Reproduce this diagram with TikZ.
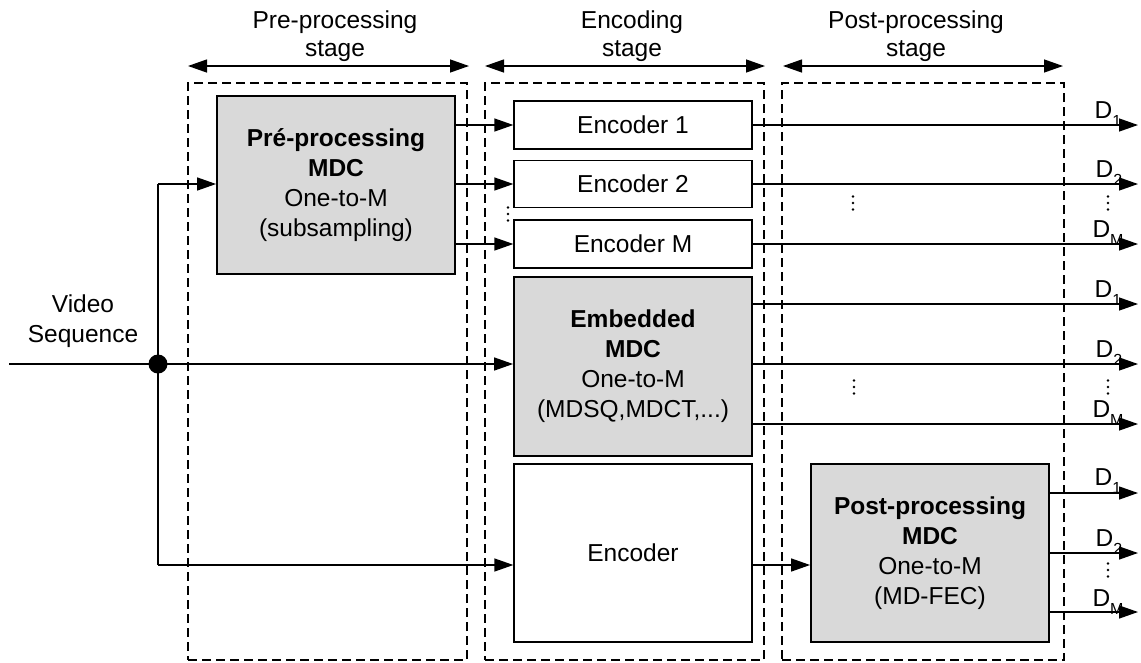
\documentclass[tikz,border=0pt]{standalone}
\usepackage{fontspec}
\setmainfont{Liberation Sans}
\usetikzlibrary{arrows.meta}
\definecolor{boxgray}{RGB}{217,217,217}
\newcommand\dsub[1]{\raisebox{-8pt}{\fontsize{16}{16}\selectfont #1}}
\begin{document}
\begin{tikzpicture}[x=1pt,y=-1pt,
  every node/.style={font=\fontsize{24.5}{30}\selectfont},
  conn/.style={line width=1.3pt},
  arr/.style={line width=1.3pt,-{Triangle[length=19pt,width=13pt]}},
  dbl/.style={line width=1.3pt,{Triangle[length=19pt,width=13pt]}-{Triangle[length=19pt,width=13pt]}},
  stagebox/.style={draw,line width=1.2pt,dash pattern=on 9pt off 5pt,inner sep=0pt,minimum height=577pt},
  whitebox/.style={draw,fill=white,line width=1.3pt,inner sep=0pt,minimum width=238pt,align=center},
  graybox/.style={draw,fill=boxgray,line width=1.8pt,inner sep=0pt,minimum width=238pt,align=center},
  stagelab/.style={align=center,font=\fontsize{24.5}{28}\selectfont},
  dlab/.style={anchor=base,inner sep=0pt},
  vd/.pic={\fill (0,-6.5) circle (1.4pt) (0,0) circle (1.4pt) (0,6.5) circle (1.4pt);}
]
\useasboundingbox (0,0) rectangle (1141,662);

% stage frames
\node[stagebox,minimum width=279pt] (s1) at (327.5,371.5) {};
\node[stagebox,minimum width=279pt] (s2) at (624.5,371.5) {};
\node[stagebox,minimum width=282pt] (s3) at (923,371.5) {};

% stage labels and arrows
\node[stagelab] (l1) at (335,36.5) {Pre-processing\\stage};
\node[stagelab] (l2) at (632,36.5) {Encoding\\stage};
\node[stagelab] (l3) at (916,36.5) {Post-processing\\stage};
\coordinate (a1l) at (188,66); \coordinate (a1r) at (469,66);
\coordinate (a2l) at (485,66); \coordinate (a2r) at (765,66);
\coordinate (a3l) at (783,66); \coordinate (a3r) at (1063,66);
\draw[dbl] (a1l) -- (a1r);
\draw[dbl] (a2l) -- (a2r);
\draw[dbl] (a3l) -- (a3r);

% blocks
\node[graybox,minimum height=178pt] (pre) at (336,185) {\textbf{Pré-processing}\\\textbf{MDC}\\One-to-M\\(subsampling)};
\node[whitebox,minimum height=48pt] (enc1) at (633,125) {Encoder 1};
\node[whitebox,minimum height=47pt] (enc2) at (633,184) {Encoder 2};
\node[whitebox,minimum height=48pt] (encM) at (633,244) {Encoder M};
\node[graybox,minimum height=179pt] (emb) at (633,366.5) {\textbf{Embedded}\\\textbf{MDC}\\One-to-M\\(MDSQ,MDCT,...)};
\node[whitebox,minimum height=178pt] (enc) at (633,553) {Encoder};
\node[graybox,minimum height=178pt] (post) at (930,553) {\textbf{Post-processing}\\\textbf{MDC}\\One-to-M\\(MD-FEC)};

\node[align=center] (video) at (83,321.5) {Video\\Sequence};

% input network
\coordinate (vin) at (9,364);
\coordinate (jc) at (158,364);
\coordinate (tap) at (158,184);
\coordinate (bot) at (158,565);
\draw[conn] (vin) -- (jc);
\draw[arr] (jc) -- (jc -| emb.west);
\draw[conn] (tap) -- (bot);
\draw[arr] (tap) -- (tap -| pre.west);
\draw[arr] (bot) -- (bot -| enc.west);
\node[circle,fill=black,inner sep=0pt,minimum size=19pt] (j) at (jc) {};

% pre-processing to encoders
\draw[arr] (pre.east |- enc1.west) -- (enc1.west);
\draw[arr] (pre.east |- enc2.west) -- (enc2.west);
\draw[arr] (pre.east |- encM.west) -- (encM.west);

% encoder to post-processing
\draw[arr] (enc.east |- bot) -- (post.west |- bot);

% outputs
\coordinate (o1) at (1138,125);
\coordinate (o2) at (1138,184);
\coordinate (o3) at (1138,244);
\coordinate (o4) at (1138,304);
\coordinate (o5) at (1138,364);
\coordinate (o6) at (1138,424);
\coordinate (o7) at (1138,493);
\coordinate (o8) at (1138,553);
\coordinate (o9) at (1138,612);
\draw[arr] (enc1.east) -- (o1);
\draw[arr] (enc2.east) -- (o2);
\draw[arr] (encM.east) -- (o3);
\draw[arr] (emb.east |- o4) -- (o4);
\draw[arr] (emb.east |- o5) -- (o5);
\draw[arr] (emb.east |- o6) -- (o6);
\draw[arr] (post.east |- o7) -- (o7);
\draw[arr] (post.east |- o8) -- (o8);
\draw[arr] (post.east |- o9) -- (o9);

% output labels
\node[dlab] (t1) at (1108,118) {D\dsub{1}};
\node[dlab] (t2) at (1109,177) {D\dsub{2}};
\node[dlab] (t3) at (1108,237) {D\dsub{M}};
\node[dlab] (t4) at (1108,297) {D\dsub{1}};
\node[dlab] (t5) at (1109,357) {D\dsub{2}};
\node[dlab] (t6) at (1108,417) {D\dsub{M}};
\node[dlab] (t7) at (1108,485) {D\dsub{1}};
\node[dlab] (t8) at (1109,546) {D\dsub{2}};
\node[dlab] (t9) at (1108,606) {D\dsub{M}};

% vertical dots
\pic at (508,214) {vd};
\pic at (853,203) {vd};
\pic at (1108,203) {vd};
\pic at (854,387) {vd};
\pic at (1108,387) {vd};
\pic at (1108,570) {vd};
\end{tikzpicture}
\end{document}
